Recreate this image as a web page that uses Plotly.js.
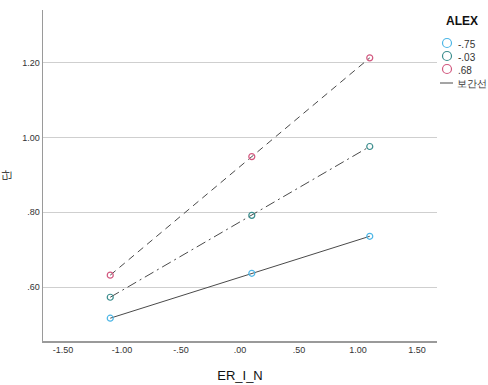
<!DOCTYPE html>
<html>
<head>
<meta charset="utf-8">
<script src="https://cdn.plot.ly/plotly-3.0.1.min.js"></script>
<style>html,body{margin:0;padding:0;background:#fff}#chart{width:488px;height:385px}</style>
</head>
<body>
<div id="chart"></div>
<script>
const xValues = [-1.1, 0.1, 1.1];
const seriesNames = ["-.75", "-.03", ".68"];
const yLow = [0.517, 0.637, 0.736];
const yMid = [0.573, 0.792, 0.976];
const yHigh = [0.632, 0.949, 1.213];
const xTickVals = [-1.5, -1.0, -0.5, 0, 0.5, 1.0, 1.5];
const xTickText = ["-1.50", "-1.00", "-.50", ".00", ".50", "1.00", "1.50"];
const yTickVals = [0.6, 0.8, 1.0, 1.2];
const yTickText = [".60", ".80", "1.00", "1.20"];
const legendTitle = "ALEX";
const fitLabel = "보간선";

const seriesY = [yLow, yMid, yHigh];
const markerColors = ["#4cb6e6", "#3b8d8d", "#d2587f"];
const dashes = ["solid", "10px,4px,2px,4px", "7px,5px"];
const lineColor = "#4a4a4a";

const W = 488, H = 385;
const M = {l: 43, r: 51, t: 10, b: 44, autoexpand: false};
const pw = W - M.l - M.r, ph = H - M.t - M.b;
const px = v => (v - M.l) / pw;
const py = v => (H - M.b - v) / ph;

const traces = [];
seriesY.forEach((ys, i) => {
  traces.push({
    x: xValues, y: ys, mode: "lines", type: "scatter",
    line: {color: lineColor, width: 1, dash: dashes[i]},
    showlegend: false, hoverinfo: "skip"
  });
});
seriesY.forEach((ys, i) => {
  traces.push({
    x: xValues, y: ys, mode: "markers", type: "scatter", name: seriesNames[i],
    showlegend: false,
    marker: {symbol: "circle-open", size: 6, color: markerColors[i], line: {width: 1.2, color: markerColors[i]}}
  });
});

// manual legend (SPSS style, compact)
const annotations = [];
const shapes = [];
annotations.push({xref: "paper", yref: "paper", x: px(462), y: py(21), text: "<b>" + legendTitle + "</b>",
  showarrow: false, xanchor: "center", yanchor: "middle", font: {size: 12, color: "#111"}});
seriesNames.forEach((n, i) => {
  const cy = 43 + i * 13;
  shapes.push({type: "circle", xref: "paper", yref: "paper", xsizemode: "pixel", ysizemode: "pixel",
    xanchor: px(447), yanchor: py(cy), x0: -4.5, x1: 4.5, y0: -4.5, y1: 4.5,
    line: {color: markerColors[i], width: 1.2}, fillcolor: "rgba(0,0,0,0)"});
  annotations.push({xref: "paper", yref: "paper", x: px(456), y: py(cy + 1), text: n,
    showarrow: false, xanchor: "left", yanchor: "middle", font: {size: 10, color: "#333"}});
});
shapes.push({type: "line", xref: "paper", yref: "paper", x0: px(440), x1: px(453), y0: py(83), y1: py(83),
  line: {color: lineColor, width: 1}});
annotations.push({xref: "paper", yref: "paper", x: px(455), y: py(83), text: fitLabel,
  showarrow: false, xanchor: "left", yanchor: "middle", font: {size: 10, color: "#333"}});

const layout = {
  width: W, height: H,
  margin: M,
  paper_bgcolor: "#fff", plot_bgcolor: "#fff",
  font: {family: "Liberation Sans, Arial, sans-serif", size: 9, color: "#333"},
  xaxis: {
    range: [-1.67, 1.67], tickvals: xTickVals, ticktext: xTickText,
    showgrid: false, zeroline: false, showline: true, linecolor: "#9a9a9a", linewidth: 1.5,
    ticks: "", ticklen: 0, tickfont: {size: 9, color: "#333"},
    title: {text: "ER_I_N", font: {size: 13, color: "#111"}, standoff: 16}
  },
  yaxis: {
    range: [0.456, 1.341], tickvals: yTickVals, ticktext: yTickText,
    showgrid: true, gridcolor: "#cfcfcf", gridwidth: 1, zeroline: false,
    showline: true, linecolor: "#9a9a9a", linewidth: 1.5,
    ticks: "", tickfont: {size: 9, color: "#333"},
    title: {text: "단", font: {size: 11, color: "#111"}, standoff: 12}
  },
  showlegend: false,
  annotations: annotations,
  shapes: shapes
};

Plotly.newPlot("chart", traces, layout, {displayModeBar: false, staticPlot: true});
</script>
</body>
</html>
